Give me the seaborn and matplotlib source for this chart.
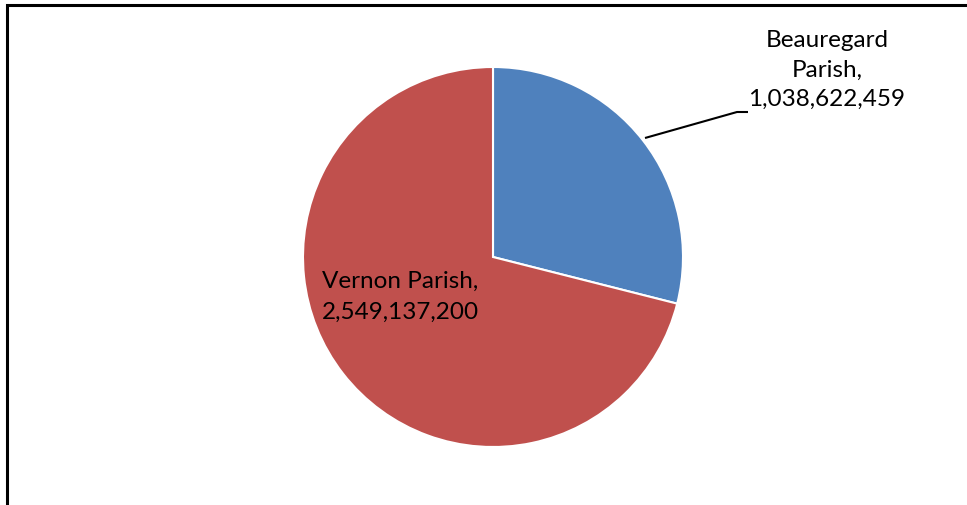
import matplotlib
matplotlib.use("Agg")
import matplotlib.pyplot as plt
import seaborn as sns

categories = ["Beauregard Parish", "Vernon Parish"]
values = [1038622459, 2549137200]
colors = ["#4F81BD", "#C0504D"]

sns.set_theme(style="white")
plt.rcParams['font.family'] = ['Lato', 'DejaVu Sans']

W, H = 967, 505
fig = plt.figure(figsize=(W / 100, H / 100), dpi=100)
ax = fig.add_axes([0, 0, 1, 1])

cx, cy, r = 493, H - 257, 190
ax.pie(values, startangle=90, counterclock=False, colors=colors,
       center=(cx, cy), radius=r,
       wedgeprops=dict(edgecolor="white", linewidth=1.5))
ax.set_xlim(0, W)
ax.set_ylim(0, H)
ax.set_aspect("equal")
ax.axis("off")

def fmt(v):
    return f"{v:,}"

# Beauregard label with leader line
ax.text(827, H - 70, "Beauregard\nParish,\n" + fmt(values[0]),
        ha="center", va="center", fontsize=17.5, linespacing=1.5, color="black")
ax.plot([645, 737, 748], [H - 138, H - 112, H - 112], color="black", lw=1.5,
        solid_capstyle="butt")

# Vernon label
ax.text(400, H - 297, categories[1] + ",\n" + fmt(values[1]),
        ha="center", va="center", fontsize=17.5, linespacing=1.55, color="black")

# chart border (left and top edges visible)
ax.plot([7, 7, W + 5], [-5, H - 5, H - 5], color="black", lw=2.2,
        clip_on=False, solid_joinstyle="miter")

fig.savefig("out.png", dpi=100, facecolor="white")
